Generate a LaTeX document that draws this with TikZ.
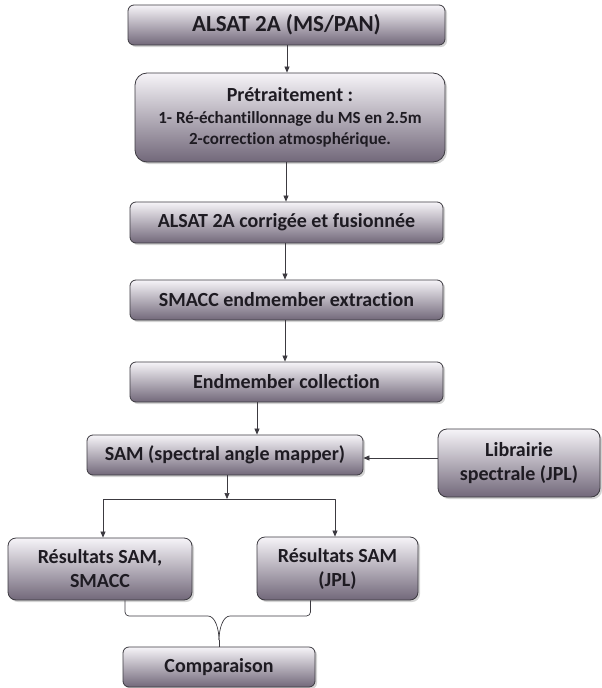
\documentclass[tikz,border=0pt]{standalone}
\usepackage{fontspec}
\setmainfont{Carlito}[Ligatures=NoCommon]
\usetikzlibrary{arrows.meta,shadows}
\definecolor{boxtop}{RGB}{246,244,248}
\definecolor{boxmid}{RGB}{206,201,211}
\definecolor{boxbot}{RGB}{114,104,122}
\definecolor{boxline}{RGB}{60,58,64}
\definecolor{ink}{RGB}{30,27,34}
\begin{document}
\begin{tikzpicture}[x=1pt,y=-1pt, line join=round,
  box/.style={draw=boxline, line width=0.8pt, rounded corners=6pt, top color=boxtop, middle color=boxmid, bottom color=boxbot,
    drop shadow={shadow xshift=2pt, shadow yshift=-2pt, opacity=0.35}, text=ink, font=\bfseries\fontsize{20}{24}\selectfont, align=center, inner sep=0pt},
  flow/.style={draw=boxline, line width=0.7pt, -{Triangle[width=5pt,length=6pt]}},
  link/.style={draw=boxline, line width=0.7pt}]
\useasboundingbox (0,0) rectangle (602,688);
% main column
\node[box, minimum width=317pt, minimum height=40pt, font=\bfseries\fontsize{23}{27}\selectfont] (alsat) at (286.5,25) {ALSAT 2A (MS/PAN)};
\node[box, minimum width=310pt, minimum height=89pt, rounded corners=12pt] (pretrait) at (290,117.5)
  {Prétraitement :\\[-2pt] {\fontsize{17}{20}\selectfont 1- Ré-échantillonnage du MS en 2.5m}\\[-3pt] {\fontsize{17}{20}\selectfont 2-correction atmosphérique.}};
\node[box, minimum width=313pt, minimum height=41pt] (corr) at (286.5,222.5) {ALSAT 2A corrigée et fusionnée};
\node[box, minimum width=313pt, minimum height=40pt] (smacc) at (286.5,300) {SMACC endmember extraction};
\node[box, minimum width=313pt, minimum height=40pt] (coll) at (286.5,382) {Endmember collection};
\node[box, minimum width=276pt, minimum height=40pt] (sam) at (225,455) {SAM (spectral angle mapper)};
\node[box, minimum width=162pt, minimum height=68pt, rounded corners=9pt] (lib) at (519,463) {Librairie\\ spectrale (JPL)};
\node[box, minimum width=184pt, minimum height=62pt, rounded corners=8pt] (resA) at (100,569) {Résultats SAM,\\ SMACC};
\node[box, minimum width=161pt, minimum height=63pt, rounded corners=8pt] (resB) at (337.5,568.5) {Résultats SAM\\ (JPL)};
\node[box, minimum width=192pt, minimum height=40pt] (comp) at (219,667) {Comparaison};
\coordinate (split) at (227,499);
\coordinate (join) at (219,640);
% arrows
\draw[flow] ([xshift=0.5pt]alsat.south) -- ([xshift=0.5pt]alsat.south |- pretrait.north);
\draw[flow] ([xshift=-4pt]pretrait.south) -- ([xshift=-4pt]pretrait.south |- corr.north);
\draw[flow] ([xshift=-1.5pt]corr.south) -- ([xshift=-1.5pt]corr.south |- smacc.north);
\draw[flow] ([xshift=-1.5pt]smacc.south) -- ([xshift=-1.5pt]smacc.south |- coll.north);
\draw[flow] ([xshift=-29.5pt]coll.south) -- ([xshift=-29.5pt]coll.south |- sam.north);
\draw[flow] ([yshift=5pt]lib.west) -- ([yshift=5pt]lib.west -| sam.east);
\draw[flow] ([xshift=2pt]sam.south) -- (split);
\draw[flow] (split) -| ([xshift=3pt]resA.north);
\draw[flow] (split) -| ([xshift=-2.5pt]resB.north);
\draw[link, rounded corners=4pt] ([xshift=25pt]resA.south) |- (204,616) to[out=0,in=90] (join);
\draw[link, rounded corners=4pt] ([xshift=-27pt]resB.south) |- (234,616) to[out=180,in=90] (join);
\draw[link] (join) -- (comp.north);
\end{tikzpicture}
\end{document}
